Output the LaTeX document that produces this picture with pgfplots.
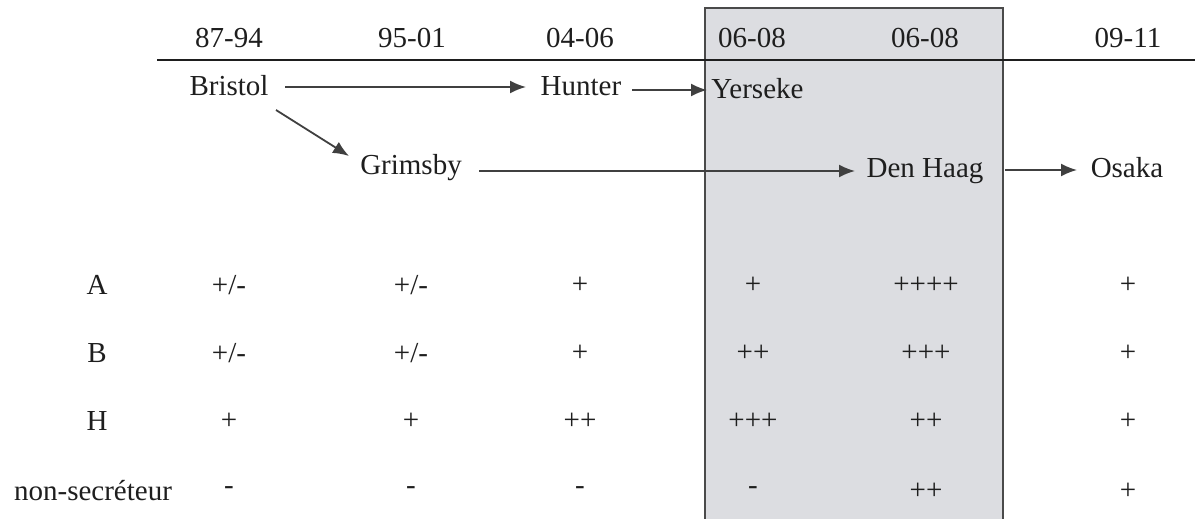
\documentclass[border=0pt]{standalone}
\usepackage{pgfplots}
\pgfplotsset{compat=1.18}
\usepackage{fontspec}
\setmainfont{Liberation Serif}
\usetikzlibrary{arrows.meta}
\definecolor{boxfill}{HTML}{DCDDE1}
\definecolor{boxedge}{HTML}{4A4A4A}
\definecolor{ink}{HTML}{1E1E1E}
\tikzset{lab/.style={font=\fontsize{14.5}{17}\selectfont, text=ink, inner sep=0pt}}
\begin{document}
\begin{tikzpicture}
\begin{axis}[
  scale only axis, width=600pt, height=259.5pt,
  xmin=0, xmax=1200, ymin=0, ymax=519, y dir=reverse,
  hide axis, clip=true,
]
\path (axis cs:0,0) rectangle (axis cs:1200,519);
% shaded box
\addplot[draw=boxedge, line width=1.4pt, fill=boxfill] coordinates {(705,540) (705,8) (1003,8) (1003,540)};
% time line
\addplot[ink, line width=0.9pt] coordinates {(157,60) (1195,60)};
% arrows
\addplot[ink!85, line width=0.9pt, -{Latex[length=8pt,width=6.5pt]}] coordinates {(285,87) (526,87)};
\addplot[ink!85, line width=0.9pt, -{Latex[length=8pt,width=6.5pt]}] coordinates {(632,90) (707,90)};
\addplot[ink!85, line width=0.9pt, -{Latex[length=8pt,width=6.5pt]}] coordinates {(276,110) (349,156)};
\addplot[ink!85, line width=0.9pt, -{Latex[length=8pt,width=6.5pt]}] coordinates {(479,171) (855,171)};
\addplot[ink!85, line width=0.9pt, -{Latex[length=8pt,width=6.5pt]}] coordinates {(1005,170) (1077,170)};
% period labels
\node[lab] at (axis cs:229,38) {87-94};
\node[lab] at (axis cs:412,38) {95-01};
\node[lab] at (axis cs:580,38) {04-06};
\node[lab] at (axis cs:752,38) {06-08};
\node[lab] at (axis cs:925,38) {06-08};
\node[lab] at (axis cs:1128,38) {09-11};
% places
\node[lab] at (axis cs:229,86) {Bristol};
\node[lab] at (axis cs:581,86) {Hunter};
\node[lab, anchor=west] at (axis cs:711,89) {Yerseke};
\node[lab] at (axis cs:411,168) {Grimsby};
\node[lab] at (axis cs:925,171) {Den Haag};
\node[lab] at (axis cs:1127,168) {Osaka};
% row labels
\node[lab] at (axis cs:97,285) {A};
\node[lab] at (axis cs:97,353) {B};
\node[lab] at (axis cs:97,421) {H};
\node[lab] at (axis cs:93,491) {non-secréteur};
% values
\node[lab] at (axis cs:229,285) {+/-};
\node[lab] at (axis cs:411,285) {+/-};
\node[lab] at (axis cs:580,285) {+};
\node[lab] at (axis cs:753,285) {+};
\node[lab] at (axis cs:926,285) {++++};
\node[lab] at (axis cs:1128,285) {+};
\node[lab] at (axis cs:229,353) {+/-};
\node[lab] at (axis cs:411,353) {+/-};
\node[lab] at (axis cs:580,353) {+};
\node[lab] at (axis cs:753,353) {++};
\node[lab] at (axis cs:926,353) {+++};
\node[lab] at (axis cs:1128,353) {+};
\node[lab] at (axis cs:229,421) {+};
\node[lab] at (axis cs:411,421) {+};
\node[lab] at (axis cs:580,421) {++};
\node[lab] at (axis cs:753,421) {+++};
\node[lab] at (axis cs:926,421) {++};
\node[lab] at (axis cs:1128,421) {+};
\node[lab] at (axis cs:229,491) {-};
\node[lab] at (axis cs:411,491) {-};
\node[lab] at (axis cs:580,491) {-};
\node[lab] at (axis cs:753,491) {-};
\node[lab] at (axis cs:926,491) {++};
\node[lab] at (axis cs:1128,491) {+};
\end{axis}
\end{tikzpicture}
\end{document}
